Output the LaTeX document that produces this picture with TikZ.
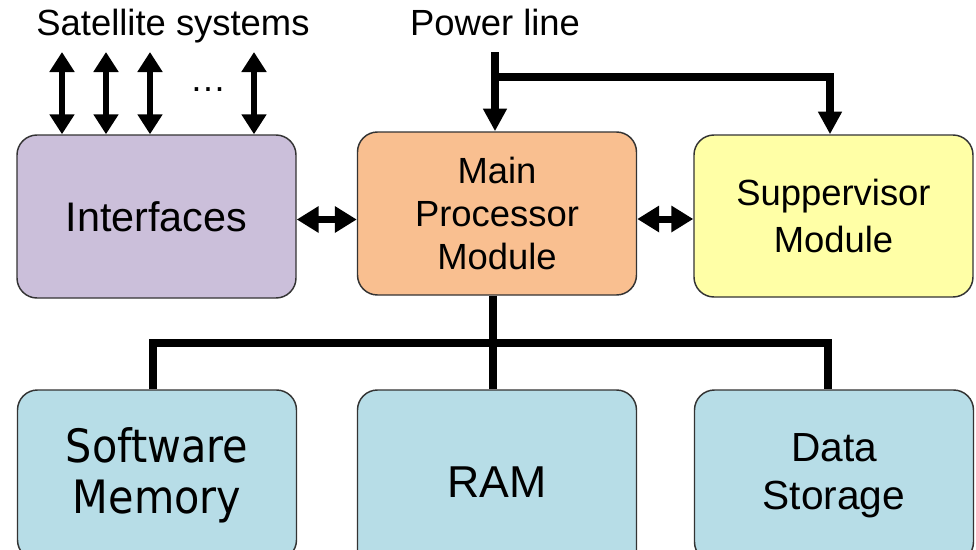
\documentclass[tikz,border=0pt]{standalone}
\usepackage{fontspec}
\setmainfont{Liberation Sans}
\newfontfamily\memfont{DejaVu Sans Condensed}
\usetikzlibrary{arrows.meta}

\definecolor{ifcfill}{HTML}{CBBFDA}
\definecolor{mpmfill}{HTML}{F9BF90}
\definecolor{supfill}{HTML}{FFFFA6}
\definecolor{memfill}{HTML}{B7DDE7}
\definecolor{boxline}{HTML}{333333}

\begin{document}
\begin{tikzpicture}[x=0.75pt,y=-0.75pt,
  box/.style={draw=boxline, line width=1.1pt, rounded corners=15pt,
    minimum width=209.25pt, inner sep=0pt, align=center},
  satlink/.style={line width=4.5pt,
    {Triangle[length=15pt,width=18pt]}-{Triangle[length=15pt,width=18pt]}},
  sidelink/.style={line width=5.25pt,
    {Triangle[length=16.5pt,width=19pt]}-{Triangle[length=16.5pt,width=19pt]}},
  powerlink/.style={line width=6pt, line join=miter},
  powertip/.style={-{Triangle[length=17pt,width=17pt]}},
  bus/.style={line width=6pt, line join=miter},
  lbl/.style={font=\fontsize{27.3}{32}\selectfont}]

\useasboundingbox (0,0) rectangle (976,550);
\clip (0,0) rectangle (976,550);

% upper row
\node[box, fill=ifcfill, minimum height=122.25pt,
      font=\fontsize{31}{36}\selectfont] (ifc) at (156.5,216.5) {Interfaces};
\node[box, fill=mpmfill, minimum height=122.25pt,
      font=\fontsize{27.3}{32.6}\selectfont] (mpm) at (497,213.5)
      {Main\\Processor\\Module};
\node[box, fill=supfill, minimum height=121.5pt,
      font=\fontsize{27.3}{35}\selectfont] (sup) at (833.5,216)
      {Suppervisor\\Module};

% lower row (runs past the lower edge)
\node[box, fill=memfill, minimum height=127.5pt,
      font=\memfont\fontsize{34.5}{38}\selectfont] (swm) at (157,475)
      {Software\\Memory};
\node[box, fill=memfill, minimum height=138.75pt,
      font=\fontsize{33.5}{38}\selectfont] (ram) at (497,482.5) {RAM};
\node[box, fill=memfill, minimum height=129pt,
      font=\fontsize{30.5}{36}\selectfont] (ds) at (834,476)
      {Data\\Storage};

% titles
\node[lbl, anchor=base] (sattitle) at (173,35) {Satellite systems};
\node[lbl, anchor=base] (powtitle) at (495,35) {Power line};
\node[lbl, anchor=base] (dots) at (208,91.5) {…};

% links to the satellite systems
\coordinate (s1) at (62,52);
\coordinate (s2) at (106,52);
\coordinate (s3) at (150,52);
\coordinate (s4) at (254,52);
\foreach \s in {s1,s2,s3,s4}
  \draw[satlink] (\s) -- (\s |- ifc.north);

% power distribution
\coordinate (pin) at (495,52);
\coordinate (pj) at (495,77);
\coordinate (pr) at (830,77);
\draw[powerlink, powertip] (pin) -- (pin |- mpm.north);
\draw[powerlink, powertip] (pj) -- (pr) -- (pr |- sup.north);

% side links
\draw[sidelink] ([yshift=-2.25pt]ifc.east) -- ([yshift=-2.25pt]ifc.east -| mpm.west);
\draw[sidelink] ([yshift=-2.25pt]sup.west -| mpm.east) -- ([yshift=-2.25pt]sup.west);

% memory bus
\coordinate (bm) at (493,343);
\coordinate (bl) at (153,343);
\coordinate (br) at (828,343);
\draw[bus] (bm |- mpm.south) -- (bm |- ram.north);
\draw[bus] (bl |- swm.north) -- (bl) -- (br) -- (br |- ds.north);

\end{tikzpicture}
\end{document}
